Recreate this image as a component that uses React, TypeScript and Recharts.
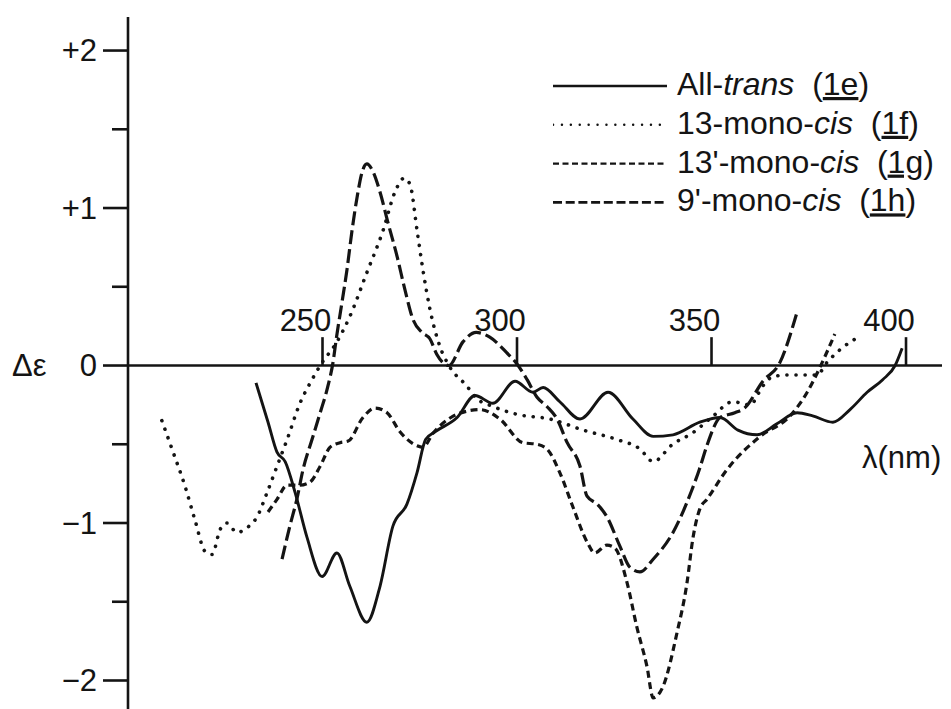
import { LineChart, Line, XAxis, YAxis, ReferenceLine, ReferenceDot, Legend } from "recharts"

// CD spectra: wavelength (nm) and Δε for each isomer
const transNm = [232.9, 236, 238.3, 240.4, 243, 246, 249.9, 253.7, 257, 261.4, 264.8, 268.1, 271.7, 274.3, 276.5, 279, 284.6, 289.2, 293.8, 299.5, 304.1, 306.7, 311, 316.2, 323.4, 329.8, 335, 340.1, 347, 352.2, 356.8, 361.7, 366.8, 372, 376, 381.2, 385.6, 390, 394, 397.2, 399]
const transDe = [-0.11, -0.36, -0.55, -0.61, -0.81, -1.09, -1.34, -1.19, -1.4, -1.63, -1.4, -1.02, -0.88, -0.68, -0.47, -0.42, -0.33, -0.19, -0.24, -0.1, -0.17, -0.14, -0.23, -0.34, -0.17, -0.34, -0.45, -0.44, -0.36, -0.33, -0.41, -0.44, -0.37, -0.3, -0.32, -0.36, -0.28, -0.17, -0.09, 0.0, 0.11]

const cis13Nm = [208.7, 211.6, 214.7, 217.2, 219.8, 221.6, 223.7, 225.4, 228, 230.6, 233.2, 235.7, 238.3, 240.9, 244.2, 247.3, 249.4, 253.7, 257, 261.4, 265.6, 268.6, 271, 272.5, 274.3, 275.8, 277.6, 280.2, 282.5, 287.1, 289.7, 293.8, 300, 308.5, 317, 325.7, 331.6, 335, 340, 345, 350, 355.5, 359.9, 363.2, 365.8, 370.2, 377.1, 379.7, 383, 387.7]
const cis13De = [-0.35, -0.55, -0.77, -0.98, -1.18, -1.2, -1.04, -1.0, -1.06, -1.03, -0.96, -0.81, -0.64, -0.47, -0.24, -0.09, 0.0, 0.15, 0.31, 0.59, 0.86, 1.1, 1.19, 1.15, 0.86, 0.61, 0.36, 0.12, 0.0, -0.13, -0.21, -0.26, -0.31, -0.34, -0.41, -0.47, -0.53, -0.61, -0.5, -0.43, -0.33, -0.23, -0.25, -0.13, -0.07, -0.06, -0.06, 0.02, 0.1, 0.18]

const cis13pNm = [236, 238.3, 240.9, 244.2, 246.8, 249.4, 251.9, 254.5, 256.6, 260.4, 263.5, 266.6, 269.9, 274.3, 275.8, 278.4, 283, 287.1, 290.5, 295.6, 301.5, 305.1, 307.7, 311, 314.4, 318, 320, 323.1, 325.2, 328.3, 330.8, 333.4, 335, 337.5, 341.1, 343.7, 345.2, 347, 348.8, 354, 362.5, 370.2, 374.6, 377.9, 381.7]
const cis13pDe = [-0.93, -0.85, -0.76, -0.76, -0.74, -0.64, -0.52, -0.49, -0.48, -0.33, -0.27, -0.3, -0.42, -0.51, -0.52, -0.43, -0.33, -0.29, -0.28, -0.34, -0.49, -0.5, -0.53, -0.68, -0.9, -1.12, -1.19, -1.14, -1.16, -1.38, -1.66, -1.91, -2.11, -2.04, -1.7, -1.38, -1.1, -0.91, -0.85, -0.66, -0.45, -0.32, -0.17, -0.01, 0.2]

const cis9pNm = [239.6, 241.6, 243.4, 245, 247.3, 249.4, 251.4, 252.7, 253.6, 255, 256.3, 257.6, 258.9, 260.2, 261.4, 263, 264.8, 266.8, 269.2, 271.2, 273.3, 275.6, 277.6, 279.4, 282.5, 286.1, 289.5, 293, 297.4, 300, 302.6, 305.1, 307.7, 310.3, 312.9, 316.2, 318, 320.6, 323.1, 326.5, 329, 331.6, 335, 340.1, 344.8, 347, 348.8, 352.2, 356, 358.5, 363.2, 367.6, 372]
const cis9pDe = [-1.23, -1.02, -0.85, -0.66, -0.47, -0.3, -0.13, 0.02, 0.18, 0.4, 0.61, 0.86, 1.07, 1.23, 1.28, 1.23, 1.1, 0.91, 0.69, 0.48, 0.29, 0.21, 0.17, 0.07, 0.0, 0.15, 0.21, 0.18, 0.08, 0.01, -0.09, -0.2, -0.26, -0.34, -0.49, -0.64, -0.83, -0.88, -0.96, -1.15, -1.28, -1.31, -1.23, -1.06, -0.8, -0.65, -0.51, -0.33, -0.3, -0.27, -0.1, 0.02, 0.34]

const seriesKeys = ["1e", "1f", "1g", "1h"]
const legendNames = [
  ["All-", "trans", "1e"],
  ["13-mono-", "cis", "1f"],
  ["13'-mono-", "cis", "1g"],
  ["9'-mono-", "cis", "1h"],
]

const yTicks = [-2, -1.5, -1, -0.5, 0, 0.5, 1, 1.5, 2]
const yTickLabels: Record<string, string> = { "2": "+2", "1": "+1", "0": "0", "-1": "\u22121", "-2": "\u22122" }
const xTicks = [250, 300, 350, 400]
const xTickLabels = ["250", "300", "350", "400"]

const zip = (nm: number[], de: number[]) => nm.map((x, i) => ({ nm: x, de: de[i] }))
const seriesData = [zip(transNm, transDe), zip(cis13Nm, cis13De), zip(cis13pNm, cis13pDe), zip(cis9pNm, cis9pDe)]

const INK = "#141414"
const FONT = '"Liberation Sans", Arial, Helvetica, sans-serif'

// line look per series: chart and legend sample
const lineStyles = [
  { dash: undefined, width: 2.9, cap: "butt", legendDash: undefined, legendWidth: 2.6 },
  { dash: "0.1 9", width: 3.6, cap: "round", legendDash: "0.1 8.8", legendWidth: 2.4 },
  { dash: "7 4.5", width: 3.2, cap: "butt", legendDash: "6 3.5", legendWidth: 2.2 },
  { dash: "14 5", width: 3.2, cap: "butt", legendDash: "9 3.7", legendWidth: 2.6 },
]

const xTickTop = 0.18
const lambdaLabelAt = { nm: 388.7, de: -0.65 }

function YTick(props: any) {
  const { x, y, payload } = props
  const v = payload.value
  const major = Number.isInteger(v)
  return (
    <g>
      <line x1={x - (major ? 25 : 16)} x2={x} y1={y} y2={y} stroke={INK} strokeWidth={2.6} />
      {major && (
        <text x={x - 31} y={y} dy="0.35em" textAnchor="end" fontFamily={FONT} fontSize={31} fill={INK}>
          {yTickLabels[String(v)]}
        </text>
      )}
      {v === 0 && (
        <text x={x - 116} y={y} dy="0.35em" textAnchor="start" fontFamily={FONT} fontSize={31} fill={INK}>
          Δε
        </text>
      )}
    </g>
  )
}

function LegendBox() {
  return (
    <svg width={398} height={180} style={{ display: "block" }}>
      {legendNames.map((parts, i) => {
        const ly = 26 + i * 38.8
        const st = lineStyles[i]
        return (
          <g key={seriesKeys[i]}>
            <line
              x1={0}
              x2={114}
              y1={ly}
              y2={ly}
              stroke={INK}
              strokeWidth={st.legendWidth}
              strokeDasharray={st.legendDash}
              strokeLinecap={st.cap as any}
            />
            <text x={124} y={ly + 9} fontFamily={FONT} fontSize={32} fill={INK}>
              <tspan>{parts[0]}</tspan>
              <tspan fontStyle="italic">{parts[1]}</tspan>
              <tspan>{"\u00a0\u00a0("}</tspan>
              <tspan textDecoration="underline">{parts[2]}</tspan>
              <tspan>)</tspan>
            </text>
          </g>
        )
      })}
    </svg>
  )
}

export default function App() {
  return (
    <div style={{ position: "absolute", left: 0, top: 0, background: "#fff" }}>
      <LineChart width={951} height={709} margin={{ top: 17, right: 9, bottom: 0, left: 0 }}>
        <XAxis type="number" dataKey="nm" domain={[200, 409.25]} allowDataOverflow hide />
        <YAxis
          type="number"
          domain={[-2.181, 2.213]}
          allowDataOverflow
          ticks={yTicks}
          interval={0}
          width={128}
          tickSize={0}
          tickMargin={0}
          tickLine={false}
          axisLine={{ stroke: INK, strokeWidth: 2.6 }}
          tick={<YTick />}
        />
        <ReferenceLine y={0} stroke={INK} strokeWidth={2.6} />
        {xTicks.map((t) => (
          <ReferenceLine
            key={"t" + t}
            segment={[
              { x: t, y: 0 },
              { x: t, y: xTickTop },
            ]}
            stroke={INK}
            strokeWidth={2.6}
          />
        ))}
        {xTicks.map((t, i) => (
          <ReferenceDot
            key={"l" + t}
            x={t}
            y={xTickTop}
            r={1}
            shape={(p: any) => (
              <text x={p.cx - 17} y={p.cy - 6} textAnchor="middle" fontFamily={FONT} fontSize={31} fill={INK}>
                {xTickLabels[i]}
              </text>
            )}
          />
        ))}
        <ReferenceDot
          x={lambdaLabelAt.nm}
          y={lambdaLabelAt.de}
          r={1}
          shape={(p: any) => (
            <text x={p.cx} y={p.cy} textAnchor="start" fontFamily={FONT} fontSize={31} fill={INK}>
              λ(nm)
            </text>
          )}
        />
        {seriesData.map((d, i) => (
          <Line
            key={seriesKeys[i]}
            data={d}
            dataKey="de"
            name={seriesKeys[i]}
            type="monotone"
            stroke={INK}
            strokeWidth={lineStyles[i].width}
            strokeDasharray={lineStyles[i].dash}
            strokeLinecap={lineStyles[i].cap as any}
            dot={false}
            activeDot={false}
            isAnimationActive={false}
          />
        ))}
        <Legend
          layout="horizontal"
          verticalAlign="middle"
          align="center"
          wrapperStyle={{ top: 60, left: 553, width: 398, height: 180 }}
          content={() => <LegendBox />}
        />
      </LineChart>
    </div>
  )
}
